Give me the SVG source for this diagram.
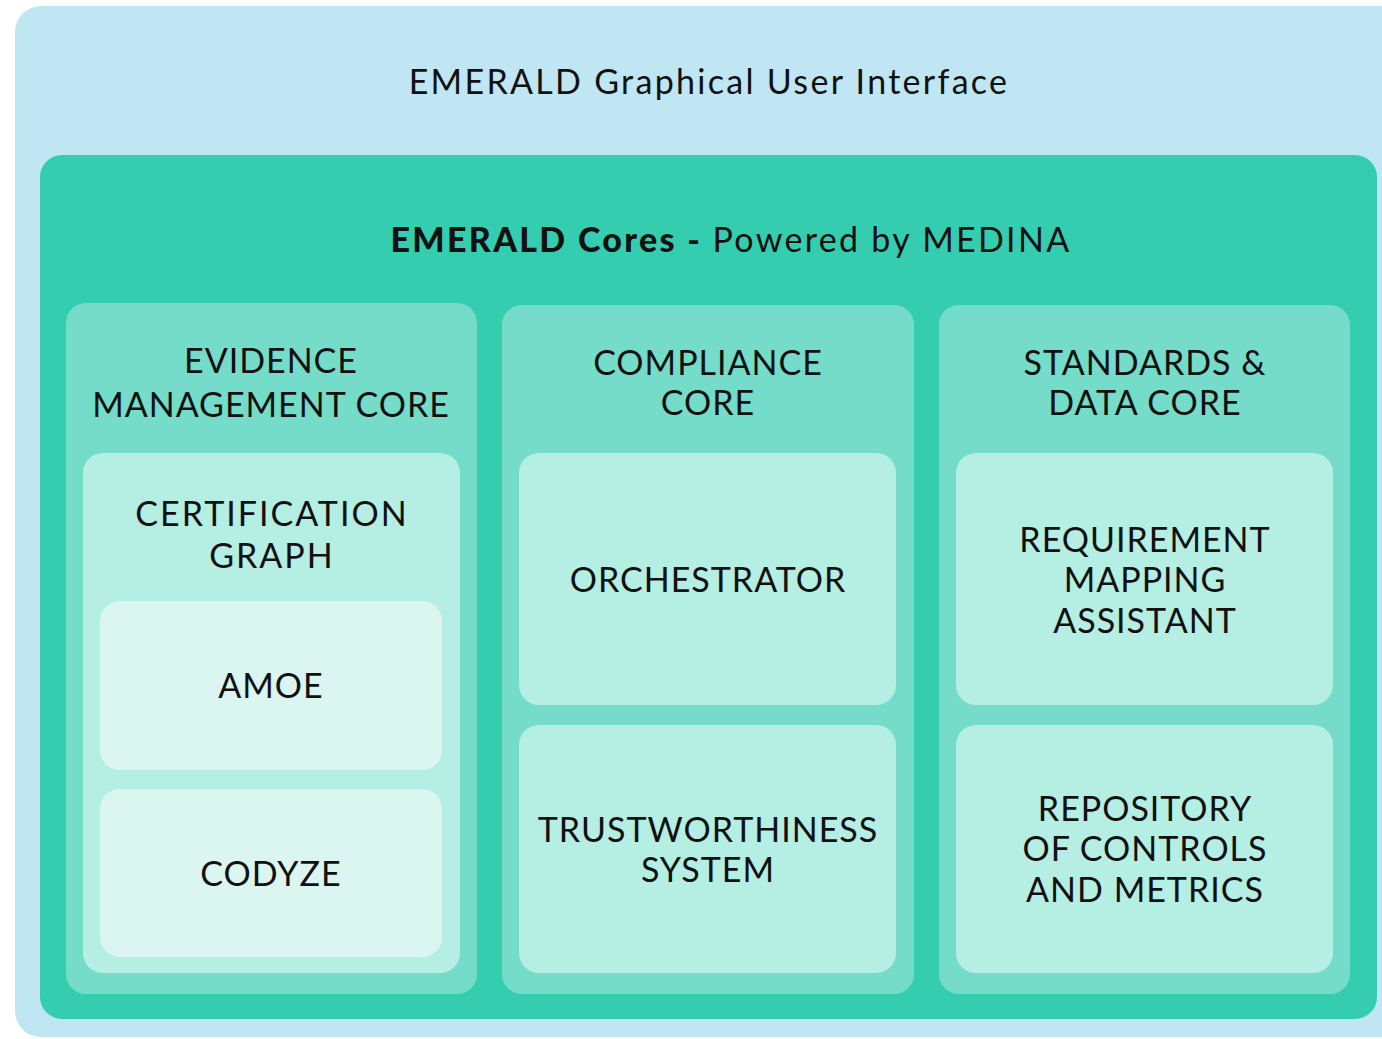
<svg xmlns="http://www.w3.org/2000/svg" width="1382" height="1039" viewBox="0 0 1382 1039">
<style>
.t{font-family:"Lato","Noto Sans",sans-serif;font-size:34px;fill:#111;text-anchor:middle;letter-spacing:1px}
.h{letter-spacing:2.3px}
.w{letter-spacing:2px}
.col{fill:#74dcc8}
.box{fill:#b5eee3}
.sub{fill:#dbf6f1}
</style>
<rect width="1382" height="1039" fill="#ffffff"/>
<g id="gui">
<rect x="15" y="6" width="1400" height="1031" rx="26" fill="#c0e6f4"/>
<text class="t h" x="709" y="94">EMERALD Graphical User Interface</text>
</g>
<g id="cores">
<rect x="40" y="155" width="1337" height="864" rx="22" fill="#35cdb0"/>
<text class="t h" x="731" y="252"><tspan font-weight="900">EMERALD Cores - </tspan>Powered by MEDINA</text>
</g>
<g id="evidence">
<rect class="col" x="66" y="303" width="411" height="691" rx="20"/>
<text class="t" x="271" y="373">EVIDENCE</text>
<text class="t" x="271" y="417">MANAGEMENT CORE</text>
</g>
<g id="certgraph">
<rect class="box" x="83" y="453" width="377" height="520" rx="20"/>
<text class="t w" x="272" y="526">CERTIFICATION</text>
<text class="t w" x="272" y="568">GRAPH</text>
</g>
<g id="amoe">
<rect class="sub" x="100" y="601" width="342" height="169" rx="20"/>
<text class="t" x="271" y="698">AMOE</text>
</g>
<g id="codyze">
<rect class="sub" x="100" y="789" width="342" height="168" rx="20"/>
<text class="t" x="271" y="886">CODYZE</text>
</g>
<g id="compliance">
<rect class="col" x="502" y="305" width="412" height="689" rx="20"/>
<text class="t" x="708" y="375">COMPLIANCE</text>
<text class="t" x="708" y="415">CORE</text>
</g>
<g id="orchestrator">
<rect class="box" x="519" y="453" width="377" height="252" rx="20"/>
<text class="t" x="708" y="592">ORCHESTRATOR</text>
</g>
<g id="trust">
<rect class="box" x="519" y="725" width="377" height="248" rx="20"/>
<text class="t" x="708" y="842">TRUSTWORTHINESS</text>
<text class="t" x="708" y="882">SYSTEM</text>
</g>
<g id="standards">
<rect class="col" x="939" y="305" width="411" height="689" rx="20"/>
<text class="t" x="1145" y="375">STANDARDS &amp;</text>
<text class="t" x="1145" y="415">DATA CORE</text>
</g>
<g id="rma">
<rect class="box" x="956" y="453" width="377" height="252" rx="20"/>
<text class="t" x="1145" y="552">REQUIREMENT</text>
<text class="t" x="1145" y="592">MAPPING</text>
<text class="t" x="1145" y="633">ASSISTANT</text>
</g>
<g id="repo">
<rect class="box" x="956" y="725" width="377" height="248" rx="20"/>
<text class="t" x="1145" y="821">REPOSITORY</text>
<text class="t" x="1145" y="861">OF CONTROLS</text>
<text class="t" x="1145" y="902">AND METRICS</text>
</g>
<g id="connectors"></g>
</svg>
